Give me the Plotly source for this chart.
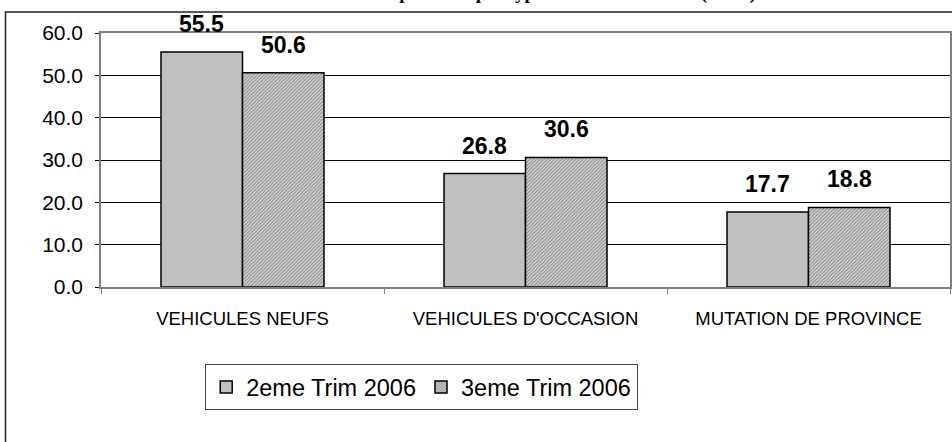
import plotly.graph_objects as go

categories = ["VEHICULES NEUFS", "VEHICULES D'OCCASION", "MUTATION DE PROVINCE"]
series_names = ["2eme Trim 2006", "3eme Trim 2006"]
values_t2 = [55.5, 26.8, 17.7]
values_t3 = [50.6, 30.6, 18.8]
y_ticks = [0, 10, 20, 30, 40, 50, 60]
title_text = "Répartition par type d'immatriculation (en %)"

FONT = "Arial, Liberation Sans, sans-serif"
W, H = 952, 442
ML, MR, MT, MB = 101, 2, 33, 155
BARGAP = 0.424

fig = go.Figure()
fig.add_trace(go.Bar(
    x=categories, y=values_t2, name=series_names[0],
    marker=dict(color="#C0C0C0", line=dict(color="black", width=1.5)),
))
fig.add_trace(go.Bar(
    x=categories, y=values_t3, name=series_names[1],
    marker=dict(color="white", line=dict(color="black", width=1.5),
                pattern=dict(shape="/", fgcolor="#333333", bgcolor="#e0e0e0",
                             size=2.5, solidity=0.5)),
))

# data labels
half = (1 - BARGAP) / 4
for s, vals in enumerate([values_t2, values_t3]):
    off = -half if s == 0 else half
    for i, v in enumerate(vals):
        fig.add_annotation(x=i + off, y=v, xref="x", yref="y", text=f"<b>{v:.1f}</b>",
                           showarrow=False, yanchor="bottom", yshift=13,
                           font=dict(family=FONT, size=23, color="black"))

pw = W - ML - MR
ph = H - MT - MB
def px(x):
    return (x - ML) / pw
def py(y):
    return (H - MB - y) / ph

# outer frame
fig.add_shape(type="rect", xref="paper", yref="paper",
              x0=px(5.5), x1=px(960), y0=py(12), y1=py(460),
              line=dict(color="#222", width=1.5), layer="below")
# partially visible title
fig.add_annotation(xref="paper", yref="paper", x=px(758), y=py(6),
                   xanchor="right", yanchor="bottom", showarrow=False,
                   text=f"<b>{title_text}</b>",
                   font=dict(family="Times New Roman, Liberation Serif, serif", size=19, color="black"))

fig.update_layout(
    width=W, height=H,
    margin=dict(l=ML, r=MR, t=MT, b=MB, autoexpand=False),
    paper_bgcolor="white", plot_bgcolor="white",
    barmode="group", bargap=BARGAP, bargroupgap=0,
    showlegend=True,
    legend=dict(orientation="h", x=px(205), y=py(364), xanchor="left", yanchor="top",
                bordercolor="#444", borderwidth=1.2, bgcolor="white",
                font=dict(family=FONT, size=23.5, color="black"),
                itemwidth=30, traceorder="normal"),
    font=dict(family=FONT, color="black"),
)
fig.update_xaxes(showline=True, linecolor="#808080", linewidth=1.5, mirror=True,
                 ticks="outside", tickson="boundaries", ticklen=5, tickcolor="#808080",
                 tickfont=dict(family=FONT, size=18.5, color="black"),
                 ticklabelstandoff=14, showgrid=False)
fig.update_yaxes(range=[0, 60], tickvals=y_ticks, tickformat=".1f",
                 showline=True, linecolor="#808080", linewidth=1.5, mirror=True,
                 ticks="outside", ticklen=4, tickcolor="black",
                 tickfont=dict(family=FONT, size=21, color="black"),
                 ticklabelstandoff=8,
                 showgrid=True, gridcolor="black", gridwidth=1, zeroline=False)

fig.write_html("out.html", config={"displayModeBar": False},
               post_script="document.body.style.margin='0';document.body.style.overflow='hidden';")
